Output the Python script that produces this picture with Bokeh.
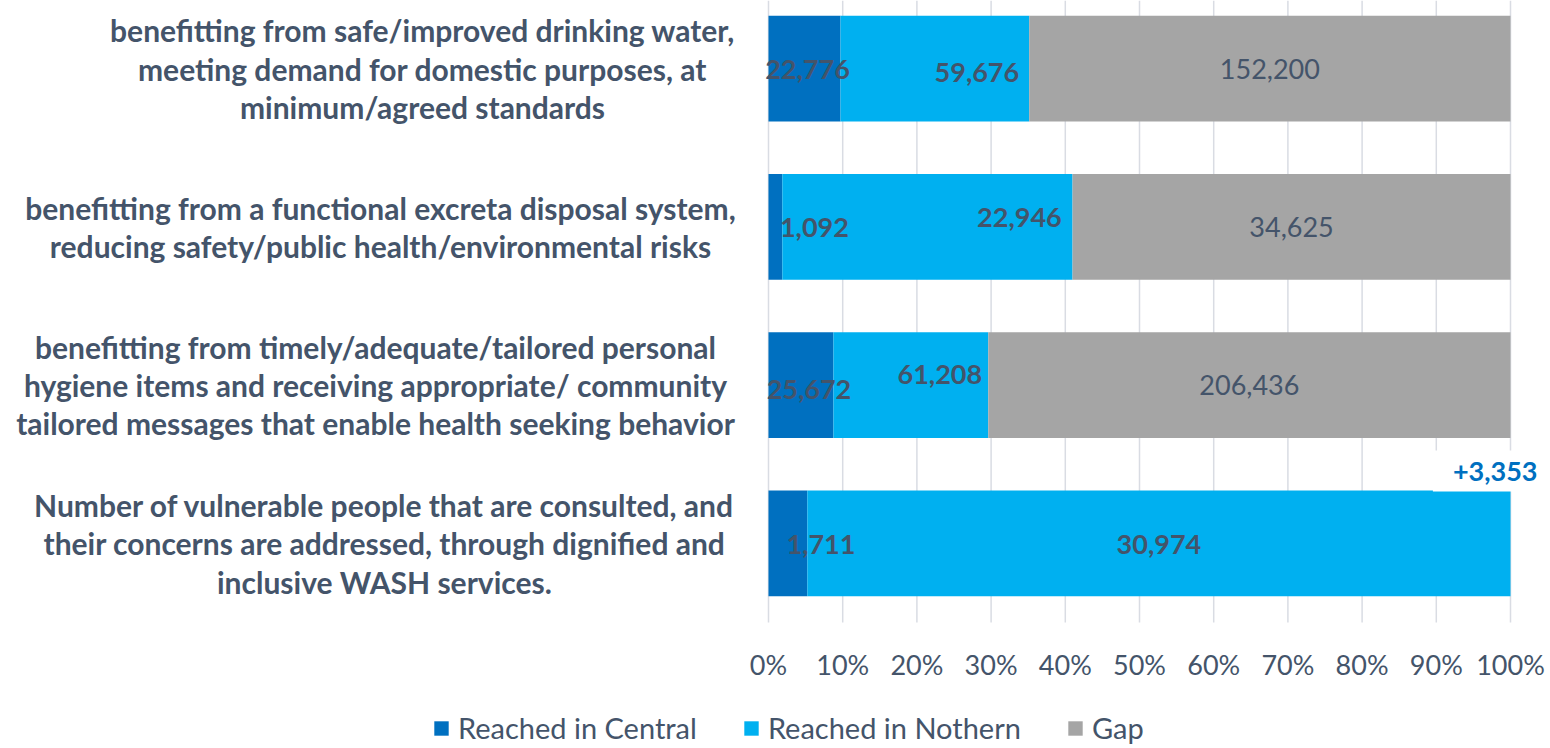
import numpy as np
from bokeh.plotting import figure
from bokeh.models import ColumnDataSource, Range1d, Label, Legend
from bokeh.core.properties import value
from bokeh.embed import file_html
from bokeh.resources import INLINE

# ---------------- data ----------------
categories = [
    "benefitting from safe/improved drinking water,\nmeeting demand for domestic purposes, at\nminimum/agreed standards",
    "benefitting from a functional excreta disposal system,\nreducing safety/public health/environmental risks",
    "benefitting from timely/adequate/tailored personal\nhygiene items and receiving appropriate/ community\ntailored messages that enable health seeking behavior",
    "Number of vulnerable people that are consulted, and\ntheir concerns are addressed, through dignified and\ninclusive WASH services.",
]
central = [22776, 1092, 25672, 1711]
northern = [59676, 22946, 61208, 30974]
gap = [152200, 34625, 206436, 0]
exceed = [0, 0, 0, 3353]
series_names = ["Reached in Central", "Reached in Nothern", "Gap"]
x_ticks = [0.0, 0.1, 0.2, 0.3, 0.4, 0.5, 0.6, 0.7, 0.8, 0.9, 1.0]
x_tick_labels = ["0%", "10%", "20%", "30%", "40%", "50%", "60%", "70%", "80%", "90%", "100%"]

# ---------------- style / layout ----------------
colors = ["#0070C0", "#00B0F0", "#A5A5A5"]
text_col = "#44546A"
grid_col = "#D9DCE3"
FONT = "Lato"
W, H = 1550, 748
ZERO_PX, HUNDRED_PX = 768, 1510     # canvas px of 0% and 100%
GRID_BOTTOM_PX = 622                # canvas px where the category area ends
Y_TOP = 3.93                        # data value at the top edge
# manual label nudges (px) as in the original chart
central_dx = [3, 39, 8, 33]
central_dy = [1, 1, 4, 1]
northern_dx = [42, 92, 29, 0]
northern_dy = [4, -9, -11, 1]
cat_label_cx = [-346, -388, -393, -384]  # px relative to the 0% line

n = len(categories)
ys = [n - i - 0.5 for i in range(n)]
tot = np.array(central) + np.array(northern) + np.array(gap)
c_pct = np.array(central) / tot
n_pct = np.array(northern) / tot
g_pct = np.array(gap) / tot

src = ColumnDataSource(dict(y=ys, c=c_pct, n=n_pct, g=g_pct))

span = HUNDRED_PX - ZERO_PX
ppu = GRID_BOTTOM_PX / Y_TOP
p = figure(width=W, height=H, output_backend="svg", toolbar_location=None,
           x_range=Range1d(-ZERO_PX / span, 1 + (W - HUNDRED_PX) / span),
           y_range=Range1d(-(H - GRID_BOTTOM_PX) / ppu, Y_TOP),
           min_border=0, x_axis_type=None, y_axis_type=None)
p.outline_line_color = None
p.background_fill_color = "white"
p.border_fill_color = "white"
p.xgrid.visible = False
p.ygrid.visible = False

# vertical grid lines at the tick values
p.segment(x0=x_ticks, x1=x_ticks, y0=[0] * len(x_ticks), y1=[Y_TOP] * len(x_ticks),
          line_color=grid_col, line_width=1.5)

BAR_H = 0.668
rs = p.hbar_stack(["c", "n", "g"], y="y", height=BAR_H, color=colors,
                  line_color=None, source=src)

# x tick labels
tick_src = ColumnDataSource(dict(x=x_ticks, y=[0] * len(x_ticks), t=x_tick_labels))
p.text(x="x", y="y", text="t", y_offset=42, source=tick_src, text_align="center",
       text_baseline="middle", text_font=value(FONT), text_font_size="27px",
       text_color=text_col)

# value labels
lab_x, lab_y, lab_t, lab_dx, lab_dy = [], [], [], [], []
for i in range(n):
    if central[i] > 0:
        lab_x.append(c_pct[i] / 2); lab_y.append(ys[i]); lab_t.append(f"{central[i]:,}")
        lab_dx.append(central_dx[i]); lab_dy.append(central_dy[i])
    if northern[i] > 0:
        lab_x.append(c_pct[i] + n_pct[i] / 2); lab_y.append(ys[i]); lab_t.append(f"{northern[i]:,}")
        lab_dx.append(northern_dx[i]); lab_dy.append(northern_dy[i])
bold_src = ColumnDataSource(dict(x=lab_x, y=lab_y, t=lab_t, dx=lab_dx, dy=lab_dy))
p.text(x="x", y="y", text="t", x_offset="dx", y_offset="dy", source=bold_src,
       text_align="center", text_baseline="middle", text_font=value(FONT),
       text_font_style="bold", text_font_size="27px", text_color=text_col)

gx, gy, gt = [], [], []
for i in range(n):
    if gap[i] > 0:
        gx.append(c_pct[i] + n_pct[i] + g_pct[i] / 2); gy.append(ys[i]); gt.append(f"{gap[i]:,}")
gap_src = ColumnDataSource(dict(x=gx, y=gy, t=gt))
p.text(x="x", y="y", text="t", source=gap_src, text_align="center", text_baseline="middle",
       text_font=value(FONT), text_font_size="27px", text_color=text_col)

# over-achievement label (white box hides the grid behind it)
for i in range(n):
    if exceed[i] > 0:
        p.add_layout(Label(x=1.0, y=ys[i] + BAR_H / 2, x_offset=47, y_offset=-1,
                           text=f"+{exceed[i]:,}", text_align="right", text_baseline="bottom",
                           text_font=FONT, text_font_style="bold", text_font_size="27px",
                           text_color="#0070C0", background_fill_color="white",
                           padding=(20, 11)))

# category labels (left of the bars)
cat_src = ColumnDataSource(dict(x=[0.0] * n, y=ys, t=categories, dx=cat_label_cx))
p.text(x="x", y="y", text="t", x_offset="dx", source=cat_src,
       text_align="center", text_baseline="middle", text_font=value(FONT),
       text_font_style="bold", text_font_size="30px", text_color=text_col,
       text_line_height=1.06)

# legend
legend = Legend(items=[(series_names[k], [rs[k]]) for k in range(3)],
                orientation="horizontal", location=(432, 3),
                label_text_font=FONT, label_text_font_size="29px", label_text_color=text_col,
                glyph_width=18, glyph_height=18, label_standoff=8, spacing=45,
                padding=0, margin=0, border_line_color=None, background_fill_alpha=0)
p.add_layout(legend, "center")

open("out.html", "w").write(file_html(p, INLINE))
